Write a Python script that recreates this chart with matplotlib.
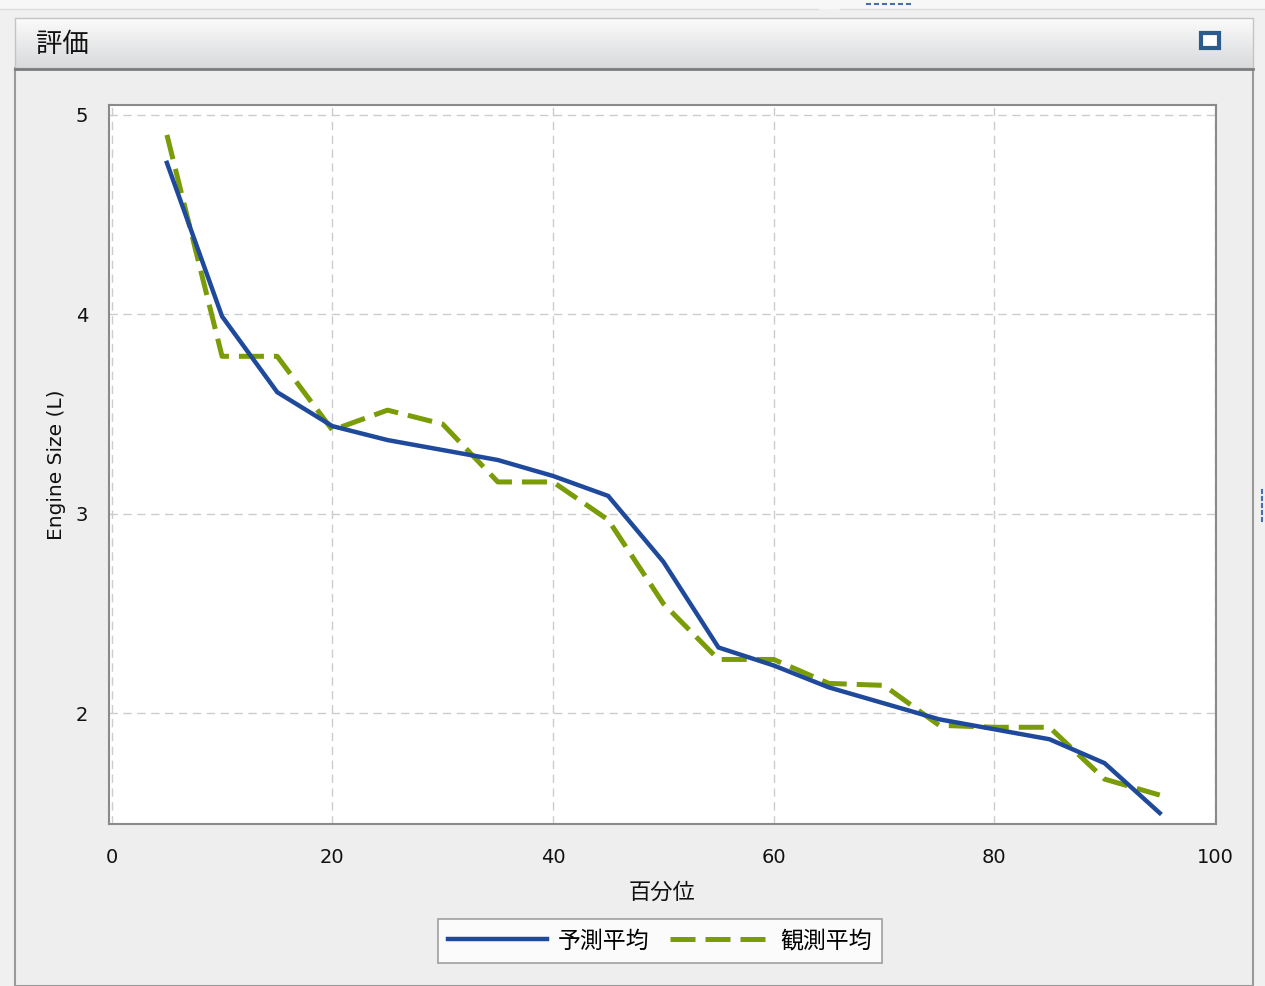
import numpy as np
import matplotlib
matplotlib.use("Agg")
import matplotlib.pyplot as plt
from matplotlib.patches import Rectangle

# =====================================================
# DATA
# =====================================================

percentile = [5, 10, 15, 20, 25, 30, 35, 40, 45, 50,
              55, 60, 65, 70, 75, 80, 85, 90, 95]

predicted_mean = [4.76, 3.99, 3.61, 3.44, 3.37, 3.32, 3.27, 3.19, 3.09, 2.76,
                  2.33, 2.24, 2.13, 2.05, 1.97, 1.92, 1.87, 1.75, 1.50]

observed_mean = [4.90, 3.79, 3.79, 3.42, 3.52, 3.45, 3.16, 3.16, 2.97, 2.55,
                 2.27, 2.27, 2.15, 2.14, 1.94, 1.93, 1.93, 1.67, 1.59]

x_ticks = [0, 20, 40, 60, 80, 100]
y_ticks = [2, 3, 4, 5]

title_text = "評価"
x_label = "百分位"
y_label = "Engine Size (L)"
legend_labels = ["予測平均", "観測平均"]

# =====================================================
# STYLE
# =====================================================

CJK = ["Noto Sans CJK JP", "DejaVu Sans"]
BLUE = "#1f4a9c"
GREEN = "#7a9c06"

W, H = 1265, 986

fig = plt.figure(figsize=(W / 100, H / 100), dpi=100)
fig.patch.set_facecolor("#f0f0f0")

# =====================================================
# PANEL BACKGROUND (pixel coords)
# =====================================================

bg = fig.add_axes([0, 0, 1, 1], zorder=-5)
bg.axis("off")

# top strip
bg.add_patch(Rectangle((0, 0), W, 9, facecolor="#f7f7f7", edgecolor="none"))
bg.plot([0, 818], [9, 9], color="#dddddd", lw=1)
bg.plot([840, W], [9, 9], color="#dddddd", lw=1)
for dx in range(867, 910, 8):
    bg.plot([dx, dx + 3], [4, 4], color="#4a6fa8", lw=1.5)

# panel body
bg.add_patch(Rectangle((15, 68), 1238, H - 68, facecolor="#eeeeee",
                       edgecolor="#9a9a9a", lw=1.5))

# title bar gradient
grad = np.linspace(0, 1, 60).reshape(-1, 1)
cmap = matplotlib.colors.LinearSegmentedColormap.from_list(
    "bar", ["#fbfbfb", "#d9dadc"])
bg.imshow(grad, extent=(15, 1253, 68, 18), cmap=cmap, aspect="auto", zorder=1)
bg.add_patch(Rectangle((15, 18), 1238, 50, facecolor="none",
                       edgecolor="#c4c4c4", lw=1, zorder=2))
bg.plot([15, 1253], [69, 69], color="#7c7c7c", lw=2, zorder=3)
bg.set_xlim(0, W)
bg.set_ylim(H, 0)

bg.text(36, 45, title_text, family=CJK, fontsize=19, color="#111111",
        va="center", ha="left", zorder=4)

# maximize icon
bg.add_patch(Rectangle((1201, 33), 18, 15, facecolor="white",
                       edgecolor="#2b5c8f", lw=3, zorder=4))

# right-edge dots
for dy in range(490, 522, 7):
    bg.plot([1262, 1262], [dy, dy + 3], color="#4a6fa8", lw=1.5)

# =====================================================
# PLOT
# =====================================================

ax = fig.add_axes([109 / W, 1 - 824 / H, (1216 - 109) / W, (824 - 105) / H])
ax.set_facecolor("white")

ax.plot(percentile, predicted_mean, color=BLUE, lw=3.2,
        solid_joinstyle="miter", label=legend_labels[0], zorder=3)
ax.plot(percentile, observed_mean, color=GREEN, lw=3.6,
        dashes=(5, 2), label=legend_labels[1], zorder=2)

ax.set_xlim(-0.25, 100.1)
ax.set_ylim(1.445, 5.05)
ax.set_xticks(x_ticks)
ax.set_yticks(y_ticks)

ax.grid(True, color="#cccccc", lw=1, linestyle=(0, (6, 4)))
ax.set_axisbelow(True)

ax.tick_params(length=0, labelsize=14, colors="#111111")
ax.tick_params(axis="x", pad=17)
ax.tick_params(axis="y", pad=15)

for s in ax.spines.values():
    s.set_color("#8a8a8a")
    s.set_linewidth(1.5)

ax.set_xlabel(x_label, family=CJK, fontsize=16, color="#111111", labelpad=10)
ax.set_ylabel(y_label, fontsize=14.5, color="#111111", labelpad=7)

leg = fig.legend(loc="center", bbox_to_anchor=(660 / W, 1 - 941 / H),
                 ncol=2, frameon=True, fancybox=False,
                 prop={"family": CJK, "size": 16.5},
                 handlelength=4.3, columnspacing=0.9, handletextpad=0.5,
                 borderpad=0.45)
leg.get_frame().set_edgecolor("#8a8a8a")
leg.get_frame().set_linewidth(1.2)
leg.get_frame().set_facecolor("white")

plt.savefig("out.png", dpi=100, facecolor=fig.get_facecolor())
plt.close()
